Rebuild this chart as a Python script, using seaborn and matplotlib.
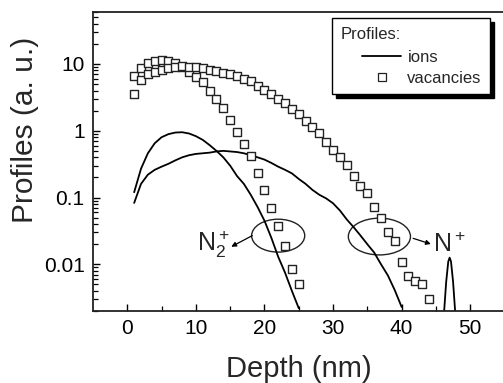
import numpy as np
import pandas as pd
import matplotlib
matplotlib.use("Agg")
import matplotlib.pyplot as plt
import seaborn as sns
from matplotlib.patches import Ellipse
from matplotlib.lines import Line2D
from matplotlib.offsetbox import DrawingArea
from matplotlib.ticker import LogLocator, NullFormatter

# Ion profiles (SRIM-like), depth in nm
depth_ions_n2 = list(range(1, 26))
ions_n2 = [0.12, 0.27, 0.46, 0.65, 0.80, 0.89, 0.94, 0.95, 0.91, 0.83,
           0.73, 0.61, 0.50, 0.40, 0.30, 0.21, 0.16, 0.11, 0.072, 0.045,
           0.025, 0.013, 0.0075, 0.004, 0.0022]

depth_ions_n = list(range(1, 41))
ions_n = [0.083, 0.16, 0.22, 0.26, 0.29, 0.32, 0.36, 0.40, 0.43, 0.45,
          0.46, 0.47, 0.49, 0.50, 0.49, 0.48, 0.46, 0.43, 0.40, 0.37,
          0.33, 0.29, 0.26, 0.23, 0.19, 0.16, 0.13, 0.11, 0.097, 0.082,
          0.064, 0.047, 0.036, 0.027, 0.020, 0.015, 0.010, 0.0068, 0.0041, 0.0023]

# Isolated deep N+ ion peak
depth_ions_tail = [46.2, 46.5, 46.8, 47.0, 47.2, 47.5, 47.8]
ions_tail = [0.002, 0.0055, 0.011, 0.0126, 0.011, 0.0055, 0.002]

# Vacancy profiles
depth_vac_n2 = list(range(1, 26))
vac_n2 = [6.6, 8.6, 10.2, 11.2, 11.5, 11.2, 10.2, 9.1, 7.7, 6.3,
          5.3, 4.0, 3.0, 2.2, 1.45, 0.95, 0.63, 0.42, 0.234, 0.129,
          0.070, 0.0377, 0.0188, 0.0084, 0.005]

depth_vac_n = list(range(1, 45))
vac_n = [3.5, 5.8, 7.1, 7.7, 8.1, 8.6, 9.1, 9.3, 9.1, 9.0,
         8.6, 8.1, 7.8, 7.4, 7.1, 6.6, 5.9, 5.5, 4.7, 4.1,
         3.5, 3.0, 2.6, 2.1, 1.78, 1.41, 1.15, 0.91, 0.68, 0.52,
         0.40, 0.31, 0.21, 0.15, 0.115, 0.072, 0.049, 0.031, 0.022, 0.0107,
         0.0066, 0.0057, 0.0051, 0.003]

x_ticks = [0, 10, 20, 30, 40, 50]
x_minor_ticks = [5, 15, 25, 35, 45]
y_ticks = [0.01, 0.1, 1, 10]
y_tick_labels = ["0.01", "0.1", "1", "10"]

sns.set_style("ticks")
plt.rcParams["font.family"] = ["Liberation Sans", "DejaVu Sans"]
plt.rcParams["mathtext.fontset"] = "custom"
plt.rcParams["mathtext.rm"] = "Liberation Sans"
plt.rcParams["mathtext.it"] = "Liberation Sans"

ions = pd.concat([
    pd.DataFrame({"depth": depth_ions_n2, "value": ions_n2, "seg": "N2+"}),
    pd.DataFrame({"depth": depth_ions_n, "value": ions_n, "seg": "N+"}),
    pd.DataFrame({"depth": depth_ions_tail, "value": ions_tail, "seg": "N+ tail"}),
])
vac = pd.concat([
    pd.DataFrame({"depth": depth_vac_n2, "value": vac_n2, "ion": "N2+"}),
    pd.DataFrame({"depth": depth_vac_n, "value": vac_n, "ion": "N+"}),
])

fig = plt.figure(figsize=(5.03, 3.83), dpi=100)
ax = fig.add_axes([93 / 503, 72 / 383, 411.5 / 503, 299 / 383])

sns.lineplot(data=ions, x="depth", y="value", units="seg", estimator=None,
             color="black", linewidth=1.3, sort=False, ax=ax, legend=False)
sns.scatterplot(data=vac, x="depth", y="value", marker="s", s=38,
                facecolor="white", edgecolor="#222222", linewidth=1.0,
                ax=ax, legend=False, zorder=3)

ax.set_yscale("log")
ax.set_xlim(-5, 55)
ax.set_ylim(0.002, 60)
ax.set_xticks(x_ticks)
ax.set_xticks(x_minor_ticks, minor=True)
ax.set_yticks(y_ticks)
ax.set_yticklabels(y_tick_labels)
ax.yaxis.set_minor_locator(LogLocator(base=10, subs=np.arange(2, 10), numticks=20))
ax.yaxis.set_minor_formatter(NullFormatter())

ax.tick_params(axis="both", which="major", direction="in", length=5,
               width=1.0, labelsize=15, colors="black", pad=6)
ax.tick_params(axis="both", which="minor", direction="in", length=3.5,
               width=0.9, colors="black")
ax.tick_params(top=False, right=False, left=True, bottom=True, which="both")
for side in ["left", "bottom", "top", "right"]:
    ax.spines[side].set_linewidth(1.3)
    ax.spines[side].set_color("#222222")

ax.set_xlabel("Depth (nm)", fontsize=21, labelpad=12)
ax.set_ylabel("Profiles (a. u.)", fontsize=21.5)
ax.yaxis.set_label_coords(-0.131, 0.605)

# Ellipses marking the two ion species with labels
ax.add_patch(Ellipse((0.450, 0.252), 0.129, 0.110, transform=ax.transAxes,
                     fill=False, edgecolor="#222222", linewidth=1.0))
ax.add_patch(Ellipse((0.696, 0.249), 0.151, 0.123, transform=ax.transAxes,
                     fill=False, edgecolor="#222222", linewidth=1.0))
ax.annotate("", xy=(0.336, 0.215), xytext=(0.387, 0.252),
            xycoords="axes fraction",
            arrowprops=dict(arrowstyle="-|>", color="black", lw=0.9,
                            mutation_scale=7, shrinkA=0, shrinkB=0))
ax.annotate("", xy=(0.821, 0.224), xytext=(0.778, 0.243),
            xycoords="axes fraction",
            arrowprops=dict(arrowstyle="-|>", color="black", lw=0.9,
                            mutation_scale=7, shrinkA=0, shrinkB=0))
ax.text(0.292, 0.222, r"$\mathregular{N_2^+}$", transform=ax.transAxes,
        fontsize=18, ha="center", va="center")
ax.text(0.865, 0.222, r"$\mathregular{N^+}$", transform=ax.transAxes,
        fontsize=18, ha="center", va="center")

handles = [
    Line2D([], [], color="black", linewidth=1.3),
    Line2D([], [], color="#222222", marker="s", linestyle="none",
           markerfacecolor="white", markersize=6, markeredgewidth=0.9),
]
leg = ax.legend(handles, ["ions", "vacancies"], title="Profiles:",
                loc="upper right", bbox_to_anchor=(0.965, 0.979),
                borderaxespad=0, fontsize=12, title_fontsize=12,
                alignment="left", handlelength=2.3, handletextpad=0.4,
                labelspacing=0.35, borderpad=0.5, columnspacing=0,
                fancybox=False, framealpha=1, edgecolor="black",
                shadow={"ox": 3, "oy": -3, "color": "black", "alpha": 1})
leg.get_frame().set_linewidth(1.0)
leg._legend_box.sep = 6
# indent the entries under the title
leg._legend_handle_box._children.insert(0, DrawingArea(16, 1))

fig.savefig("out.png", dpi=100)
